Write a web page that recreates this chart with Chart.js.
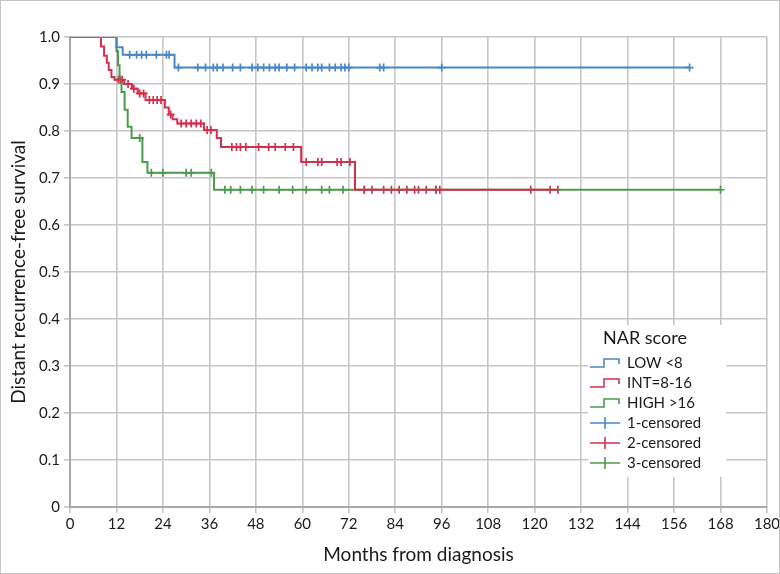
<!DOCTYPE html>
<html lang="en">
<head>
    <meta charset="UTF-8">
    <title>NAR score survival</title>
    <style>
        body { margin: 0; background: #fff; }
        .box { width: 780px; height: 574px; box-sizing: border-box; border: 1px solid #c4c4c4; }
        canvas { display: block; }
    </style>
</head>
<body>
    <div class="box">
        <canvas id="grafico" width="778" height="572"></canvas>
    </div>
    <script src="https://cdn.jsdelivr.net/npm/chart.js"></script>
    <script>
        // curvas (tempo em meses, sobrevida depois do evento)
        var lowTimes = [0, 12, 13.6, 27, 160];
        var lowSurv = [1, 0.978, 0.962, 0.935, 0.935];
        var intTimes = [0, 8, 8.8, 9.5, 10, 10.7, 11.5, 14, 16, 17.5, 19.5, 24.5, 25.5, 26.5, 27.7, 34.6, 37.9, 39, 59.7, 73.6, 126];
        var intSurv = [1, 0.98, 0.96, 0.945, 0.93, 0.915, 0.909, 0.9, 0.89, 0.88, 0.866, 0.85, 0.835, 0.825, 0.816, 0.802, 0.785, 0.766, 0.734, 0.675, 0.675];
        var highTimes = [0, 12, 12.4, 12.8, 13.3, 14.1, 14.9, 15.9, 18.7, 20, 37.2, 168];
        var highSurv = [1, 0.97, 0.94, 0.91, 0.883, 0.845, 0.809, 0.785, 0.734, 0.711, 0.675, 0.675];

        // censuras
        var lowCens = [15.4, 17.2, 18.5, 19.7, 22.3, 24.9, 25.6, 28, 33, 35, 37, 38, 39.5, 42, 44, 47, 48.5, 50, 51.5, 53, 54, 56, 58, 61, 62.5, 64, 65, 67, 68.5, 70, 71, 72, 80, 81, 96, 160];
        var intCens = [12.5, 13, 13.5, 15, 16.5, 18, 19, 20.5, 21.5, 22.5, 23.5, 26, 28.7, 30, 31.3, 32.6, 33.8, 35.4, 36.4, 41.8, 43, 44, 45.4, 48.7, 51.3, 53, 55.6, 57.7, 61, 64, 65, 69, 70, 72.3, 76, 78, 81, 83, 85, 87, 89, 90, 92, 94.5, 95.5, 119, 124, 126];
        var highCens = [18, 21, 24, 30, 31.3, 36.5, 40, 41.5, 44, 47, 50, 54, 57.5, 61, 65, 67, 70.5, 76, 94.5, 168];

        var xTicks = [0, 12, 24, 36, 48, 60, 72, 84, 96, 108, 120, 132, 144, 156, 168, 180];
        var yTicks = [0, 0.1, 0.2, 0.3, 0.4, 0.5, 0.6, 0.7, 0.8, 0.9, 1.0];

        var legendNames = ["LOW <8", "INT=8-16", "HIGH >16", "1-censored", "2-censored", "3-censored"];

        var azul = "#4a87c5";
        var vermelho = "#d3304f";
        var verde = "#4c9a4c";

        function pontos(tempos, valores) {
            var lista = [];
            for (var i = 0; i < tempos.length; i++) {
                lista.push({ x: tempos[i], y: valores[i] });
            }
            return lista;
        }

        function censuras(cens, tempos, valores) {
            var lista = [];
            for (var i = 0; i < cens.length; i++) {
                var s = valores[0];
                for (var j = 0; j < tempos.length; j++) {
                    if (tempos[j] <= cens[i]) s = valores[j];
                }
                lista.push({ x: cens[i], y: s });
            }
            return lista;
        }

        function curva(label, tempos, valores, cor) {
            return {
                label: label,
                data: pontos(tempos, valores),
                showLine: true,
                stepped: true,
                borderColor: cor,
                borderWidth: 2,
                pointRadius: 0,
                fill: false
            };
        }

        function marcas(label, cens, tempos, valores, cor) {
            return {
                label: label,
                data: censuras(cens, tempos, valores),
                showLine: false,
                pointStyle: "cross",
                pointRadius: 4,
                borderColor: cor,
                borderWidth: 1.7
            };
        }

        var fonte = "Lato, 'DejaVu Sans', sans-serif";

        // legenda desenhada dentro do grafico
        var legendaNar = {
            id: "legendaNar",
            afterDraw: function (chart) {
                var ctx = chart.ctx;
                var cores = [azul, vermelho, verde, azul, vermelho, verde];
                ctx.save();
                ctx.fillStyle = "#fff";
                ctx.fillRect(587, 324, 138, 152);
                ctx.fillStyle = "#1a1a1a";
                ctx.font = "18px " + fonte;
                ctx.textBaseline = "middle";
                ctx.fillText("NAR score", 602, 337);
                ctx.font = "15px " + fonte;
                for (var i = 0; i < legendNames.length; i++) {
                    var y = 362 + i * 20;
                    ctx.strokeStyle = cores[i];
                    ctx.lineWidth = 1.6;
                    ctx.beginPath();
                    if (i < 3) {
                        ctx.moveTo(589, y + 4);
                        ctx.lineTo(603, y + 4);
                        ctx.lineTo(603, y - 4);
                        ctx.lineTo(618, y - 4);
                        ctx.lineTo(618, y + 1);
                    } else {
                        ctx.moveTo(589, y);
                        ctx.lineTo(619, y);
                        ctx.moveTo(604, y - 6);
                        ctx.lineTo(604, y + 6);
                    }
                    ctx.stroke();
                    ctx.fillStyle = "#1a1a1a";
                    ctx.fillText(legendNames[i], 626, y);
                }
                ctx.restore();
            }
        };

        var config = {
            type: "scatter",
            data: {
                datasets: [
                    curva("LOW <8", lowTimes, lowSurv, azul),
                    curva("INT=8-16", intTimes, intSurv, vermelho),
                    curva("HIGH >16", highTimes, highSurv, verde),
                    marcas("1-censored", lowCens, lowTimes, lowSurv, azul),
                    marcas("2-censored", intCens, intTimes, intSurv, vermelho),
                    marcas("3-censored", highCens, highTimes, highSurv, verde)
                ]
            },
            options: {
                responsive: false,
                animation: false,
                layout: { padding: { top: 36, right: 12, bottom: 0, left: 0 } },
                plugins: {
                    legend: { display: false },
                    tooltip: { enabled: false }
                },
                scales: {
                    x: {
                        type: "linear",
                        min: 0,
                        max: 180,
                        afterBuildTicks: function (scale) {
                            scale.ticks = xTicks.map(function (v) { return { value: v }; });
                        },
                        afterFit: function (scale) {
                            scale.height = 66;
                            scale.paddingLeft = 0;
                            scale.paddingRight = 0;
                        },
                        ticks: {
                            color: "#1a1a1a",
                            font: { family: fonte, size: 15 },
                            maxRotation: 0,
                            autoSkip: false,
                            padding: 2
                        },
                        grid: { color: "#c6c6c6", lineWidth: 1.6, tickLength: 6 },
                        border: { color: "#a8a8a8", width: 2 },
                        title: {
                            display: true,
                            text: "Months from diagnosis",
                            color: "#1a1a1a",
                            font: { family: fonte, size: 19 },
                            padding: { top: 0, bottom: 7 }
                        }
                    },
                    y: {
                        type: "linear",
                        min: 0,
                        max: 1,
                        afterBuildTicks: function (scale) {
                            scale.ticks = yTicks.map(function (v) { return { value: v }; });
                        },
                        afterFit: function (scale) {
                            scale.width = 69;
                        },
                        ticks: {
                            color: "#1a1a1a",
                            font: { family: fonte, size: 15 },
                            padding: 4,
                            callback: function (v) { return v === 0 ? "0" : v.toFixed(1); }
                        },
                        grid: { color: "#c6c6c6", lineWidth: 1.6, tickLength: 6 },
                        border: { color: "#a8a8a8", width: 2 },
                        title: {
                            display: true,
                            text: "Distant recurrence-free survival",
                            color: "#1a1a1a",
                            font: { family: fonte, size: 19 },
                            padding: { top: 6, bottom: 0 }
                        }
                    }
                }
            },
            plugins: [legendaNar]
        };

        new Chart(document.getElementById("grafico"), config);
    </script>
</body>
</html>
